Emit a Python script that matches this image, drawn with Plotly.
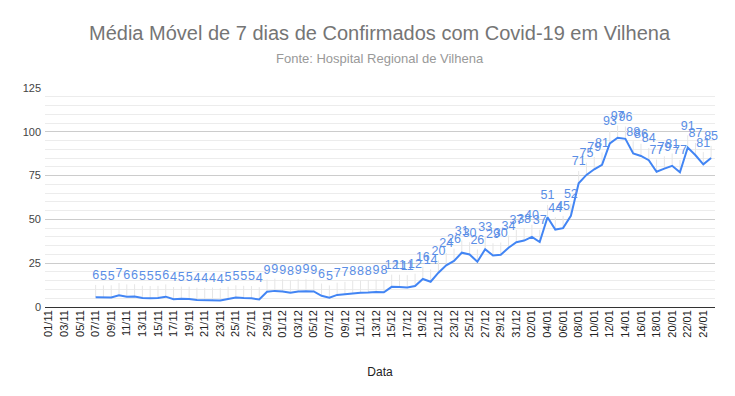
import plotly.graph_objects as go
from datetime import date, timedelta

# Categories: 01/11 .. 25/01
start = date(2020, 11, 1)
dates = [(start + timedelta(days=i)).strftime("%d/%m") for i in range(86)]

# 7-day moving average (None before first value)
values = [None] * 6 + [
    5.6, 5.3, 5.4, 6.7, 5.9, 6.0, 5.1, 5.0, 5.1, 5.9, 4.4, 4.7, 4.6, 4.0, 3.9, 4.1,
    3.7, 4.6, 5.4, 5.1, 5.0, 4.3,
    8.7, 9.2, 8.9, 8.1, 8.9, 9.0, 8.9,
    6.4, 5.3, 6.9, 7.4, 7.9, 8.1, 8.3, 8.6, 8.4,
    11.5, 11.4, 11.2, 12.0, 16.0, 14.4, 19.6, 23.8, 26.3, 31.0, 30.0, 25.8, 33.0,
    29.4, 29.8, 33.8, 37.0, 37.9, 40.0, 37.1, 51.2, 44.2, 45.0, 52.0,
    70.6, 75.4, 78.6, 81.2, 93.4, 96.6, 96.0, 87.6, 86.2, 83.8, 77.2, 79.0, 80.6,
    76.9, 91.0, 86.6, 81.4, 85.0,
]

tick_labels = dates[::2]
y_ticks = [0, 25, 50, 75, 100, 125]

labels = ["" if v is None else f"{v:.0f}" for v in values]

blue = "#4285F4"

fig = go.Figure()
fig.add_trace(go.Scatter(
    x=dates, y=values, mode="lines+markers+text",
    line=dict(color=blue, width=2),
    marker=dict(size=22, color="rgba(0,0,0,0)"),
    text=labels, textposition="top center",
    textfont=dict(family="Liberation Sans, Arial, sans-serif", size=12.5, color="#5a8ee6"),
    error_y=dict(type="constant", value=7, symmetric=False, valueminus=0,
                 color="#e6e6e6", thickness=1, width=0),
    cliponaxis=False, hoverinfo="x+y", showlegend=False,
))

# the page body adds an 8px offset, so the figure is sized/margined to compensate
fig.update_layout(
    width=727, height=388,
    margin=dict(l=37, r=20, t=80, b=89, autoexpand=False),
    paper_bgcolor="white", plot_bgcolor="white",
    font=dict(family="Liberation Sans, Arial, sans-serif", color="#222222"),
    annotations=[
        dict(
            text="Média Móvel de 7 dias de Confirmados com Covid-19 em Vilhena",
            xref="paper", yref="paper", x=0.5, y=1.0, yshift=55,
            xanchor="center", yanchor="middle", showarrow=False,
            font=dict(size=20, color="#757575"),
        ),
        dict(
            text="Fonte: Hospital Regional de Vilhena", xref="paper", yref="paper",
            x=0.5, y=1.0, yshift=30, xanchor="center", yanchor="middle", showarrow=False,
            font=dict(size=13, color="#999999"),
        ),
    ],
    xaxis=dict(
        type="category", categoryorder="array", categoryarray=dates,
        range=[-0.5, len(dates) - 0.5], automargin=False,
        tickmode="array", tickvals=tick_labels, ticktext=tick_labels,
        tickangle=-90, tickfont=dict(size=11, color="#222222"),
        showgrid=False, showline=False, ticks="",
        title=dict(text="Data", font=dict(size=12, color="#222222"), standoff=30),
    ),
    yaxis=dict(
        range=[0, 125], tickvals=y_ticks, ticktext=[str(t) for t in y_ticks],
        automargin=False,
        tickfont=dict(size=11, color="#444444"),
        gridcolor="#cccccc", gridwidth=1,
        minor=dict(dtick=5, showgrid=True, gridcolor="#ececec", gridwidth=1),
        zeroline=True, zerolinecolor="#333333", zerolinewidth=1,
        showline=False, ticks="", ticklabelstandoff=3,
    ),
)

fig.write_html("out.html")
